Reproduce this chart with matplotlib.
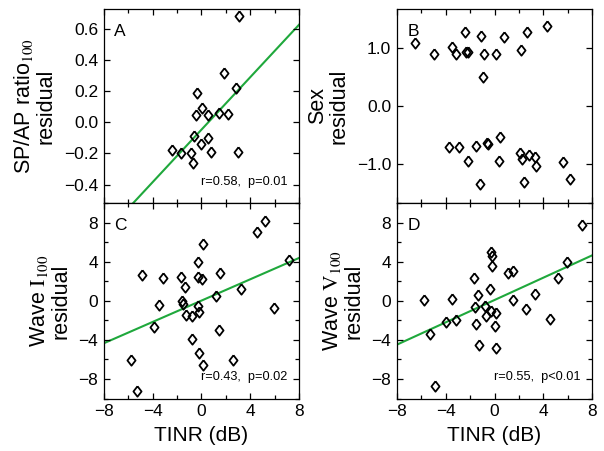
import matplotlib
matplotlib.use('Agg')
import matplotlib.pyplot as plt
from matplotlib.ticker import MultipleLocator, FuncFormatter
import numpy as np

plt.rcParams['font.family'] = ['Liberation Sans', 'DejaVu Sans']
plt.rcParams['mathtext.fontset'] = 'stix'

# ---- data ----
a_x = [3.07, 1.87, 2.83, -0.37, 0.04, -0.45, 0.51, 1.46, 2.2, -0.59, 0.56, -0.01,
       -2.44, -1.67, -0.88, 0.76, 2.97, -0.72]
a_y = [0.68, 0.317, 0.219, 0.189, 0.095, 0.045, 0.045, 0.062, 0.052, -0.087, -0.098,
       -0.137, -0.18, -0.196, -0.196, -0.19, -0.193, -0.26]

b_x = [-6.48, -4.95, -3.45, -3.12, -2.39, -2.36, -2.17, -1.08, -0.86, -0.94, 0.1, 0.75,
       2.19, 2.66, 4.27, -3.72, -2.88, -1.51, -0.59, -0.5, 0.46, -2.19, 0.38, 2.1, 2.27,
       2.82, 3.31, 3.42, -1.16, 2.38, 5.6, 6.2]
b_y = [1.086, 0.897, 1.017, 0.897, 1.27, 0.926, 0.92, 1.21, 0.89, 0.503, 0.886, 1.19,
       0.96, 1.27, 1.37, -0.708, -0.703, -0.686, -0.64, -0.657, -0.537, -0.943, -0.949,
       -0.806, -0.914, -0.835, -0.87, -1.034, -1.333, -1.3, -0.966, -1.248]

c_x = [5.17, 4.52, 0.15, -0.28, -4.87, -3.15, -1.67, -0.28, 0.02, 1.49, -1.32, 3.26,
       1.17, 7.19, -3.47, -1.59, -1.54, -0.31, -1.27, -0.77, -0.2, 5.91, -3.91, 1.46,
       -0.8, -0.23, 0.15, -5.77, 2.58, -5.25]
c_y = [8.14, 7.06, 5.81, 3.94, 2.62, 2.38, 2.49, 2.49, 2.21, 2.86, 1.47, 1.24, 0.46,
       4.14, -0.39, -0.05, -0.36, -0.56, -1.44, -1.54, -1.17, -0.73, -2.66, -2.96, -3.87,
       -5.36, -6.55, -6.04, -6.04, -9.22]

d_x = [7.18, -0.31, -0.2, -0.23, 5.91, 1.13, 1.51, -1.65, 5.17, -0.34, 3.29, -1.33,
       -5.79, -3.48, 1.49, -1.57, -0.75, 2.58, -0.29, 0.15, -0.72, 4.52, -3.95, -3.12,
       -1.48, 0.02, -5.25, -1.29, 0.15, -4.87]
d_y = [7.79, 4.98, 4.6, 3.62, 3.99, 2.84, 3.08, 2.39, 2.33, 1.24, 0.73, 0.56, 0.09,
       0.19, 0.05, -0.62, -0.49, -0.79, -1.03, -1.2, -1.51, -1.84, -2.15, -1.91, -2.39,
       -2.56, -3.41, -4.56, -4.84, -8.67]

# regression lines (slope, intercept)
a_fit = (0.0844, -0.047)
c_fit = (0.547, 0.03)
d_fit = (0.573, 0.09)

a_stats = 'r=0.58,  p=0.01'
c_stats = 'r=0.43,  p=0.02'
d_stats = 'r=0.55,  p<0.01'

ylabels = [r'SP/AP ratio$_{100}$' + '\nresidual', 'Sex\nresidual',
           r'Wave $\mathrm{I}_{100}$' + '\nresidual', r'Wave $\mathrm{V}_{100}$' + '\nresidual']
letters = ['A', 'B', 'C', 'D']

green = '#1fa83c'
diamond = [(0, 1), (0.78, 0), (0, -1), (-0.78, 0), (0, 1)]

def fmt1(v, pos):
    return ('%.1f' % v).replace('-', '\u2212')

def fmt0(v, pos):
    return ('%d' % round(v)).replace('-', '\u2212')

fig = plt.figure(figsize=(6.04, 4.51), dpi=100)

W, H = 604.0, 451.0
boxes = [(103.7, 8.7, 195.5, 194.6), (396.7, 8.7, 195.6, 194.6),
         (103.7, 203.3, 195.5, 195.2), (396.7, 203.3, 195.6, 195.2)]
axes = []
for (l, t, w, h) in boxes:
    ax = fig.add_axes([l / W, 1 - (t + h) / H, w / W, h / H])
    axes.append(ax)

ax_a, ax_b, ax_c, ax_d = axes
data = [(a_x, a_y), (b_x, b_y), (c_x, c_y), (d_x, d_y)]
fits = [a_fit, None, c_fit, d_fit]
stats = [a_stats, None, c_stats, d_stats]

xline = np.array([-8, 8])
for i, ax in enumerate(axes):
    x, y = data[i]
    if fits[i] is not None:
        ax.plot(xline, fits[i][0] * xline + fits[i][1], color=green, lw=1.5, zorder=1)
    ax.plot(x, y, linestyle='none', marker=diamond, markersize=7.5,
            mfc='none', mec='black', mew=1.3, zorder=2)
    ax.set_xlim(-8, 8)
    ax.xaxis.set_major_locator(MultipleLocator(4))
    ax.xaxis.set_minor_locator(MultipleLocator(2))
    ax.xaxis.set_major_formatter(FuncFormatter(fmt0))
    ax.tick_params(which='both', direction='in', top=True, right=True, width=0.9)
    ax.tick_params(which='major', length=4.5, labelsize=12.5, pad=4)
    ax.tick_params(which='minor', length=3)
    for s in ax.spines.values():
        s.set_linewidth(0.9)
    ax.text(0.055, 0.885, letters[i], transform=ax.transAxes, fontsize=12.5,
            ha='left', va='center')
    if stats[i] is not None:
        ax.text(0.94, 0.11, stats[i], transform=ax.transAxes, fontsize=9.2,
                ha='right', va='center')
    ax.set_ylabel(ylabels[i], fontsize=15.5, linespacing=1.05, labelpad=5)

ax_a.set_ylim(-0.52, 0.73)
ax_a.yaxis.set_major_locator(MultipleLocator(0.2))
ax_a.yaxis.set_major_formatter(FuncFormatter(fmt1))
ax_b.set_ylim(-1.67, 1.67)
ax_b.yaxis.set_major_locator(MultipleLocator(1.0))
ax_b.yaxis.set_major_formatter(FuncFormatter(fmt1))
for ax in (ax_c, ax_d):
    ax.set_ylim(-10, 10)
    ax.yaxis.set_major_locator(MultipleLocator(4))
    ax.yaxis.set_minor_locator(MultipleLocator(2))
    ax.yaxis.set_major_formatter(FuncFormatter(fmt0))
    ax.set_xlabel('TINR (dB)', fontsize=15, labelpad=5)

for ax in (ax_a, ax_b):
    ax.tick_params(labelbottom=False)

fig.savefig('out.png', dpi=100)
